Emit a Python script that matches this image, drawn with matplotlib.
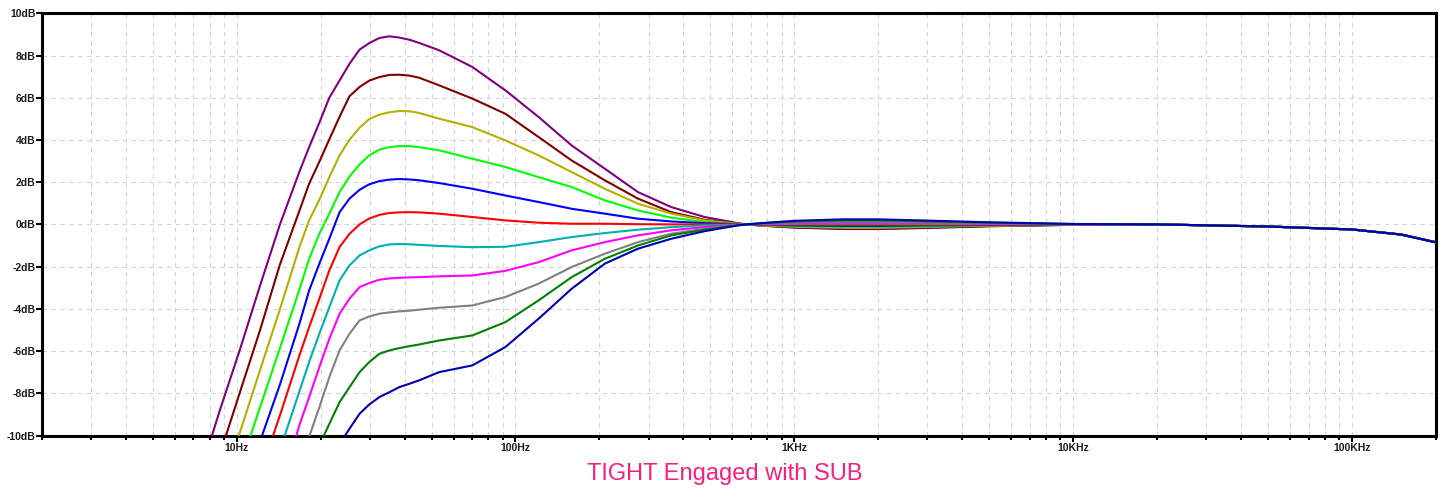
import matplotlib

matplotlib.use("Agg")
import matplotlib.pyplot as plt
from matplotlib.ticker import FixedLocator, LogLocator, NullFormatter

FREQ_HZ = [8.7, 10.3, 12.1, 14.3, 16.8, 18.2, 19.8, 21.5, 23.4, 25.4, 27.6, 29.9,
           32.5, 35.3, 38.3, 41.6, 45.1, 53.2,
           70, 92, 121, 159, 209, 275, 362, 477, 627,
           670,
           800, 1000, 1500, 2000, 3000, 5000, 10000,
           20000, 50000, 100000, 150000, 200000]

# frequency where each trace enters the plot at the -10 dB floor
START_HZ = [8.16, 9.16, 10.17, 11.22, 12.34, 13.51, 14.88, 16.38, 18.27, 20.56, 24.5]

N = None
HF_TAIL = [0.0, -0.1, -0.24, -0.48, -0.85]  # all traces share the top-end roll-off

purple_db = [-8.82, -5.89, -2.95, 0.0, 2.5, 3.66, 4.82, 6.0, 6.82, 7.61, 8.28, 8.59,
             8.83, 8.91, 8.85, 8.75, 8.6, 8.25,
             7.46, 6.35, 5.09, 3.74, 2.64, 1.53, 0.82, 0.35, 0.06,
             0.0,
             -0.08, -0.15, -0.22, -0.22, -0.17, -0.09, -0.02] + HF_TAIL
maroon_db = [N, -7.91, -5.06, -1.9, 0.65, 1.93, 2.97, 4.03, 5.1, 6.07, 6.51, 6.81,
             6.98, 7.08, 7.09, 7.05, 6.95, 6.59,
             5.96, 5.24, 4.14, 3.03, 2.09, 1.22, 0.58, 0.22, 0.04,
             0.0,
             -0.07, -0.14, -0.2, -0.2, -0.15, -0.08, -0.02] + HF_TAIL
olive_db = [N, -9.81, -6.95, -4.02, -1.07, 0.19, 1.17, 2.24, 3.27, 4.01, 4.58, 4.99,
            5.2, 5.31, 5.37, 5.36, 5.28, 5.01,
            4.61, 3.98, 3.27, 2.48, 1.69, 0.98, 0.51, 0.19, 0.03,
            0.0,
            -0.06, -0.11, -0.16, -0.16, -0.12, -0.06, -0.01] + HF_TAIL
lime_db = [N, N, -8.71, -5.86, -3.08, -1.63, -0.44, 0.51, 1.53, 2.27, 2.84, 3.27,
           3.54, 3.66, 3.71, 3.71, 3.66, 3.51,
           3.11, 2.72, 2.24, 1.77, 1.14, 0.66, 0.32, 0.11, 0.02,
           0.0,
           -0.04, -0.08, -0.12, -0.12, -0.09, -0.05, -0.01] + HF_TAIL
blue_db = [N, N, N, -7.59, -4.7, -3.13, -1.86, -0.68, 0.58, 1.22, 1.64, 1.9,
           2.05, 2.12, 2.15, 2.13, 2.09, 1.96,
           1.69, 1.37, 1.06, 0.74, 0.51, 0.27, 0.14, 0.06, 0.01,
           0.0,
           -0.02, -0.05, -0.07, -0.07, -0.05, -0.03, 0.0] + HF_TAIL
red_db = [N, N, N, -9.05, -6.2, -4.87, -3.52, -2.18, -1.07, -0.45, 0.0, 0.28,
          0.45, 0.54, 0.57, 0.58, 0.57, 0.51,
          0.35, 0.19, 0.08, 0.03, 0.03, 0.01, 0.0, 0.0, 0.0,
          0.0,
          -0.01, -0.01, -0.02, -0.02, -0.02, -0.01, 0.0] + HF_TAIL
cyan_db = [N, N, N, N, -7.9, -6.52, -5.18, -3.92, -2.65, -1.94, -1.47, -1.23,
           -1.04, -0.95, -0.93, -0.94, -0.97, -1.02,
           -1.08, -1.06, -0.84, -0.6, -0.41, -0.25, -0.13, -0.05, -0.01,
           0.0,
           0.01, 0.03, 0.04, 0.04, 0.03, 0.02, 0.0] + HF_TAIL
magenta_db = [N, N, N, N, -9.5, -8.18, -6.76, -5.42, -4.23, -3.52, -2.97, -2.78,
              -2.62, -2.56, -2.53, -2.51, -2.5, -2.46,
              -2.42, -2.2, -1.79, -1.23, -0.84, -0.52, -0.28, -0.13, -0.02,
              0.0,
              0.03, 0.06, 0.09, 0.09, 0.07, 0.04, 0.01] + HF_TAIL
gray_db = [N, N, N, N, N, N, -8.66, -7.24, -5.97, -5.18, -4.55, -4.36,
           -4.23, -4.17, -4.12, -4.09, -4.04, -3.95,
           -3.84, -3.44, -2.81, -2.02, -1.39, -0.84, -0.44, -0.21, -0.03,
           0.0,
           0.05, 0.1, 0.14, 0.14, 0.1, 0.06, 0.01] + HF_TAIL
dkgreen_db = [N, N, N, N, N, N, N, -9.45, -8.42, -7.71, -7.0, -6.52,
              -6.13, -5.97, -5.86, -5.77, -5.69, -5.5,
              -5.26, -4.63, -3.6, -2.5, -1.63, -1.0, -0.52, -0.25, -0.04,
              0.0,
              0.07, 0.13, 0.19, 0.19, 0.14, 0.08, 0.02] + HF_TAIL
navy_db = [N, N, N, N, N, N, N, N, N, -9.68, -8.97, -8.53,
           -8.18, -7.95, -7.71, -7.55, -7.39, -7.0,
           -6.68, -5.81, -4.47, -3.05, -1.86, -1.15, -0.68, -0.32, -0.05,
           0.0,
           0.08, 0.17, 0.24, 0.24, 0.18, 0.1, 0.02] + HF_TAIL

TRACES = [purple_db, maroon_db, olive_db, lime_db, blue_db, red_db,
          cyan_db, magenta_db, gray_db, dkgreen_db, navy_db]
COLORS = ["#800080", "#800000", "#b3b000", "#00ff00", "#0000ff", "#ff0000",
          "#00b0b0", "#ff00ff", "#808080", "#008000", "#0000b0"]

XTICKS_HZ = [10, 100, 1000, 10000, 100000]
XTICK_LABELS = ["10Hz", "100Hz", "1KHz", "10KHz", "100KHz"]
YTICKS_DB = list(range(-10, 11, 2))
YTICK_LABELS = [f"{v}dB" for v in YTICKS_DB]

TITLE = "TIGHT Engaged with SUB"

W, H = 1444, 497
fig = plt.figure(figsize=(W / 100, H / 100), dpi=100)
ax = fig.add_axes([41.7 / W, 1 - 435.5 / H, (1436 - 41.7) / W, (435.5 - 13.3) / H])

for start, db, color in zip(START_HZ, TRACES, COLORS):
    f = [start] + [fr for fr, v in zip(FREQ_HZ, db) if v is not None]
    v = [-10.0] + [v for v in db if v is not None]
    ax.plot(f, v, color=color, lw=1.5, solid_joinstyle="round", zorder=3)

ax.set_xscale("log")
ax.set_xlim(2, 200000)
ax.set_ylim(-10, 10)

ax.xaxis.set_major_locator(FixedLocator(XTICKS_HZ))
ax.set_xticklabels(XTICK_LABELS)
ax.xaxis.set_minor_locator(LogLocator(base=10, subs=range(2, 10), numticks=20))
ax.xaxis.set_minor_formatter(NullFormatter())
ax.set_yticks(YTICKS_DB)
ax.set_yticklabels(YTICK_LABELS)

grid_kw = dict(color="#d4d4d4", lw=0.8, ls=(0, (4, 4)))
ax.grid(which="both", axis="x", **grid_kw)
ax.grid(which="major", axis="y", **grid_kw)
ax.set_axisbelow(True)

for sp in ax.spines.values():
    sp.set_linewidth(2.2)
    sp.set_color("black")

ax.tick_params(axis="both", which="both", direction="out", color="black", width=1.5)
ax.tick_params(axis="x", which="major", length=4, pad=1.5)
ax.tick_params(axis="x", which="minor", length=3)
ax.tick_params(axis="y", which="major", length=4, pad=0.5)
for lab in ax.get_xticklabels() + ax.get_yticklabels():
    lab.set_fontfamily(["Liberation Sans", "DejaVu Sans"])
    lab.set_fontweight("bold")
    lab.set_fontsize(7.5)
    lab.set_color("#1a1a1a")

fig.text(725 / W, 1 - 480 / H, TITLE, ha="center", va="baseline",
         color="#f7207a", fontsize=17,
         family=["Liberation Sans", "DejaVu Sans"])

fig.savefig("out.png", dpi=100)
